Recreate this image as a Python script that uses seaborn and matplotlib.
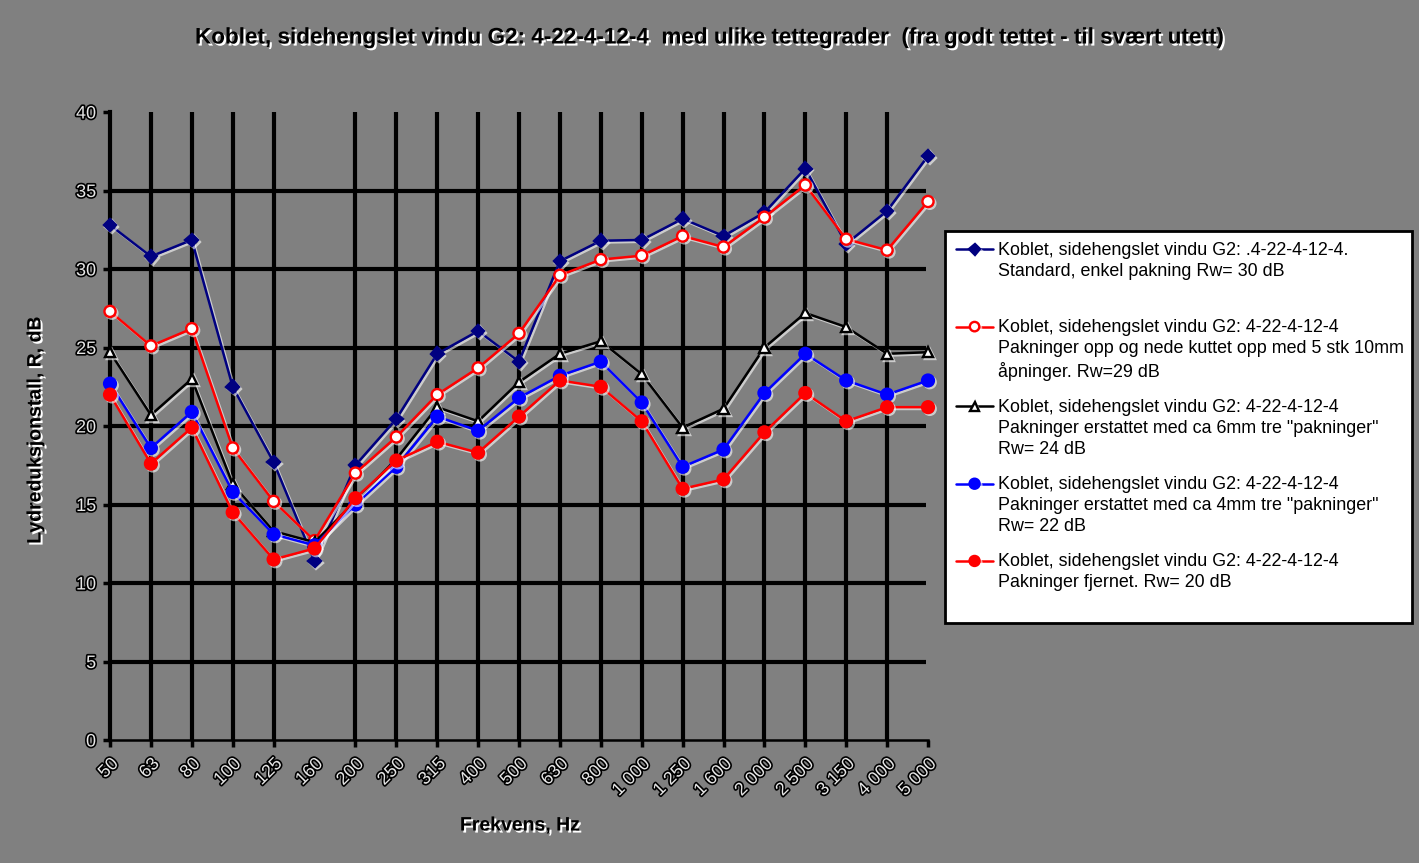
import matplotlib
matplotlib.use("Agg")
import matplotlib.pyplot as plt
import matplotlib.patheffects as pe
import numpy as np
import seaborn as sns

# ---------------- data ----------------
freqs = ["50", "63", "80", "100", "125", "160", "200", "250", "315", "400", "500",
         "630", "800", "1 000", "1 250", "1 600", "2 000", "2 500", "3 150", "4 000", "5 000"]

standard = [32.8, 30.8, 31.85, 22.5, 17.7, 11.4, 17.5, 20.45, 24.6, 26.05, 24.1,
            30.5, 31.8, 31.85, 33.2, 32.1, 33.6, 36.4, 31.6, 33.7, 37.2]
kuttet = [27.3, 25.1, 26.2, 18.6, 15.2, 12.7, 17.0, 19.3, 22.0, 23.7, 25.9,
          29.6, 30.6, 30.85, 32.1, 31.4, 33.3, 35.35, 31.9, 31.2, 34.3]
tre6mm = [24.7, 20.7, 23.0, 16.3, 13.3, 12.6, 15.2, 17.9, 21.2, 20.3, 22.8,
          24.6, 25.4, 23.3, 19.9, 21.1, 25.0, 27.2, 26.3, 24.6, 24.7]
tre4mm = [22.7, 18.6, 20.9, 15.8, 13.1, 12.4, 15.0, 17.4, 20.6, 19.7, 21.8,
          23.2, 24.1, 21.5, 17.4, 18.5, 22.1, 24.6, 22.9, 22.0, 22.9]
fjernet = [22.0, 17.6, 19.9, 14.5, 11.5, 12.2, 15.4, 17.8, 19.0, 18.3, 20.6,
           22.9, 22.5, 20.3, 16.0, 16.6, 19.6, 22.1, 20.3, 21.2, 21.2]

labels = [
    "Koblet, sidehengslet vindu G2: .4-22-4-12-4.\nStandard, enkel pakning Rw= 30 dB\n ",
    "Koblet, sidehengslet vindu G2: 4-22-4-12-4\nPakninger opp og nede kuttet opp med 5 stk 10mm\nåpninger. Rw=29 dB",
    "Koblet, sidehengslet vindu G2: 4-22-4-12-4\nPakninger erstattet med ca 6mm tre \"pakninger\"\nRw= 24 dB",
    "Koblet, sidehengslet vindu G2: 4-22-4-12-4\nPakninger erstattet med ca 4mm tre \"pakninger\"\nRw= 22 dB",
    "Koblet, sidehengslet vindu G2: 4-22-4-12-4\nPakninger fjernet. Rw= 20 dB\n ",
]
yticks = [0, 5, 10, 15, 20, 25, 30, 35, 40]
title = "Koblet, sidehengslet vindu G2: 4-22-4-12-4  med ulike tettegrader  (fra godt tettet - til svært utett)"

# ---------------- style ----------------
sns.set_theme(style="white")
plt.rcParams["font.family"] = ["Liberation Sans", "DejaVu Sans"]
BG = "#808080"

W, H = 1419, 863
fig = plt.figure(figsize=(W / 100, H / 100), dpi=100, facecolor=BG)
ax = fig.add_axes([110 / W, 1 - 740 / H, (928 - 110) / W, (740 - 112) / H])
ax.set_facecolor(BG)

x = np.arange(len(freqs))

# grid (black, thick) - vertical lines at categories, horizontal at inner ticks
vgrid = [x[i] for i in range(1, len(freqs) - 1) if i != 5]
ax.vlines(vgrid, yticks[0], yticks[-1], colors="black", linewidth=3, zorder=1)
ax.hlines(yticks[1:-1], x[0], x[-1] - 0.05, colors="black", linewidth=3, zorder=1)

shadow = [pe.SimpleLineShadow(offset=(1.3, -1.3), shadow_color="white", alpha=0.6), pe.Normal()]

series = [
    (standard, "#000080", "D", "#000080", 6.5),
    (kuttet, "#FF0000", "o", "white", 8),
    (tre6mm, "black", "^", "white", 7.5),
    (tre4mm, "#0000FF", "o", "#0000FF", 8.5),
    (fjernet, "#FF0000", "o", "#FF0000", 8.5),
]
for (vals, col, mk, mfc, ms), lab in zip(series, labels):
    sns.lineplot(x=x, y=vals, ax=ax, color=col, marker=mk, markersize=ms,
                 markerfacecolor=mfc, markeredgecolor=col, markeredgewidth=1.7,
                 linewidth=1.8, label=lab, clip_on=False, zorder=3,
                 path_effects=shadow)

ax.set_xlim(x[0], x[-1])
ax.set_ylim(yticks[0], yticks[-1])
ax.set_yticks(yticks)
ax.set_xticks(x)
ax.set_xticklabels(freqs, rotation=45, ha="right", rotation_mode="anchor")
ax.set_xlabel("")
ax.set_ylabel("")

for s in ["top", "right"]:
    ax.spines[s].set_visible(False)
ax.spines["left"].set_color("black")
ax.spines["left"].set_linewidth(3)
ax.spines["left"].set_zorder(2)
ax.spines["bottom"].set_color("black")
ax.spines["bottom"].set_linewidth(1.8)

ax.tick_params(axis="both", which="both", direction="out", length=5, width=2.5,
               color="black", labelsize=13, left=True, bottom=True)
ax.tick_params(axis="y", pad=5)
ax.tick_params(axis="x", pad=6)
ax.xaxis.get_major_ticks()[5].tick1line.set_visible(False)

lab_fx = [pe.withStroke(linewidth=2.4, foreground="black")]
for t in ax.get_xticklabels() + ax.get_yticklabels():
    t.set_color("#e6e6e6")
    t.set_path_effects(lab_fx)

txt_fx = [pe.withSimplePatchShadow(offset=(1.5, -1.5), shadow_rgbFace="white", alpha=1.0)]
fig.text(0.5, 1 - 38 / H, title, ha="center", va="center", fontsize=16.2,
         fontweight="bold", color="black", path_effects=txt_fx)
fig.text(520 / W, 1 - 826 / H, "Frekvens, Hz", ha="center", va="center", fontsize=14,
         fontweight="bold", color="black", path_effects=txt_fx)
fig.text(36 / W, 1 - 430 / H, "Lydreduksjonstall, R, dB", ha="center", va="center",
         rotation=90, fontsize=14, fontweight="bold", color="black", path_effects=txt_fx)

# legend
handles, labs = ax.get_legend_handles_labels()
leg = ax.legend(handles, labs, loc="upper left",
                bbox_to_anchor=(945 / W, 1 - 619 / H, 467 / W, 388 / H),
                bbox_transform=fig.transFigure, mode="expand", borderaxespad=0,
                fontsize=12.9, frameon=True, fancybox=False, framealpha=1,
                facecolor="white", edgecolor="black", borderpad=0.6,
                labelspacing=1.0, handlelength=2.1, handletextpad=0.25,
                handleheight=1.2, markerscale=0.85)
leg.get_frame().set_linewidth(2)
for col in leg._legend_handle_box.get_children():
    for item in col.get_children():
        item.align = "top"
for t in leg.get_texts():
    t.set_color("black")
    t.set_linespacing(1.32)

fig.savefig("out.png", dpi=100, facecolor=BG)
